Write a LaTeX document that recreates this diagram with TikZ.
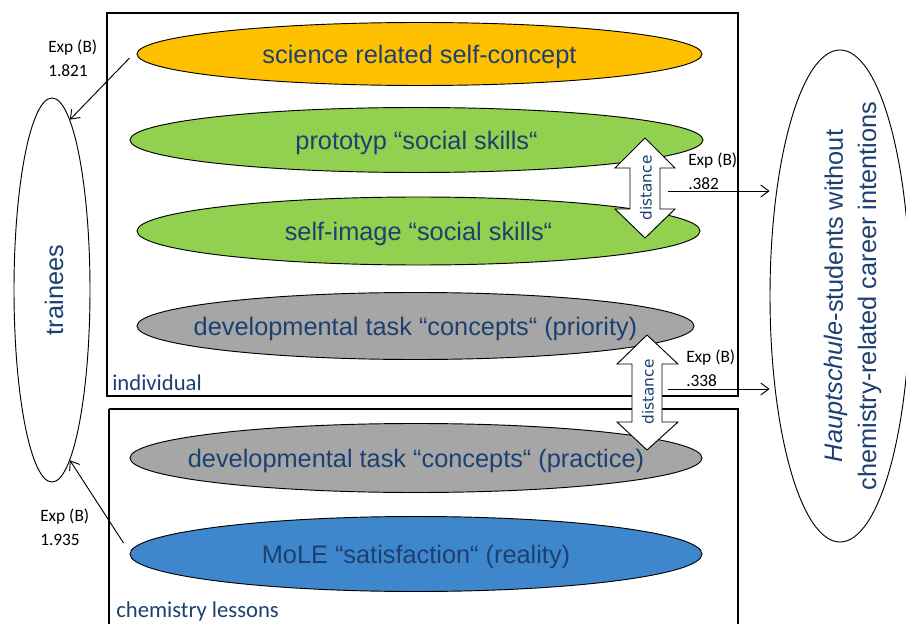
\documentclass[tikz,border=0pt]{standalone}
\usepackage{fontspec}
\setmainfont{Liberation Sans}
\newfontfamily\calibri{Carlito}
\newfontfamily\dejavu{DejaVu Sans}
\usetikzlibrary{shapes.geometric,arrows.meta}
\definecolor{txtblue}{RGB}{28,64,112}
\definecolor{fillorange}{RGB}{255,192,0}
\definecolor{fillgreen}{RGB}{146,208,80}
\definecolor{fillgray}{RGB}{166,166,166}
\definecolor{fillblue}{RGB}{62,135,204}
\tikzset{
  oval/.style n args={3}{ellipse, draw=black, line width=0.7pt, inner sep=0pt,
    minimum width=#1*0.75pt, minimum height=#2*0.75pt,
    label={[text=txtblue, font=\fontsize{19}{23}\selectfont, inner sep=0pt, yshift=-2.5pt]center:#3}},
  groupbox/.style={draw=black, line width=1pt},
  grouplabel/.style={anchor=west, inner sep=0pt, text=txtblue,
    font=\calibri\fontsize{17}{20}\selectfont},
  distarrow/.style={draw=black, line width=0.7pt, fill=white},
  distlabel/.style={rotate=90, inner sep=0pt, text=txtblue,
    font=\dejavu\fontsize{11.5}{13}\selectfont},
  link/.style={draw=black, line width=0.7pt, -{Straight Barb[length=6pt,width=9pt]}},
  expval/.style={align=left, inner sep=0pt, anchor=north west,
    font=\calibri\fontsize{13}{17.5}\selectfont},
}
\begin{document}
\begin{tikzpicture}[x=0.75pt, y=-0.75pt]
\useasboundingbox (0,0) rectangle (906,624);

% group boxes
\draw[groupbox] (107,13) rectangle (738,396);
\draw[groupbox] (109,409) -- (109,640) (109,409) -- (738,409) -- (738,640);
\node[grouplabel] (lblind) at (112,383) {individual};
\node[grouplabel] (lblchem) at (116,611) {chemistry lessons};

% outcome ellipses
\node[ellipse, draw=black, line width=0.7pt, minimum width=76*0.75pt,
  minimum height=384*0.75pt, inner sep=0pt] (trainees) at (52,290) {};
\node[rotate=90, text=txtblue, font=\fontsize{19}{23}\selectfont] (trlbl) at (54,290) {trainees};

\node[ellipse, draw=black, line width=0.7pt, minimum width=140*0.75pt,
  minimum height=492*0.75pt, inner sep=0pt] (hs) at (840,296) {};
\node[rotate=90, align=center, text=txtblue, font=\fontsize{19}{25}\selectfont]
  (hslbl) at (853,296) {\textit{Hauptschule}-students without\\chemistry-related career intentions};

% predictor ellipses
\node[oval={565}{63}{science related self-concept}, fill=fillorange] (sci) at (419.5,54) {};
\node[oval={573}{65}{prototyp “social skills“}, fill=fillgreen] (proto) at (416.5,140) {};
\node[oval={563}{68}{self-image “social skills“}, fill=fillgreen] (self) at (418.5,231) {};
\node[oval={557}{67}{developmental task “concepts“ (priority)}, fill=fillgray] (prio) at (415.5,326) {};
\node[oval={572}{69}{developmental task “concepts“ (practice)}, fill=fillgray] (prac) at (416,458) {};
\node[oval={572}{75}{MoLE “satisfaction“ (reality)}, fill=fillblue] (mole) at (416,554) {};

% distance double arrows
\draw[distarrow] (645,138) -- (675,168) -- (660,168) -- (660,209) -- (675,209)
  -- (645,238) -- (615,209) -- (630,209) -- (630,168) -- (615,168) -- cycle;
\node[distlabel] (dist1) at (646,188) {distance};
\draw[distarrow] (647,335) -- (678,364) -- (662,364) -- (662,422) -- (678,422)
  -- (647,450) -- (617,422) -- (632,422) -- (632,364) -- (617,364) -- cycle;
\node[distlabel] (dist2) at (648,392) {distance};

% effects
\draw[link] ([shift={(-7,4)}]sci.west) -- (trainees.84);
\node[expval] (e1) at (48,40) {Exp (B)\\1.821};
\draw[link] ([shift={(-6,-11)}]mole.west) -- (trainees.-84);
\node[expval] (e4) at (40,509) {Exp (B)\\1.935};

\coordinate (d1out) at (668,191);
\draw[link] (d1out) -- (d1out -| hs.west);
\node[expval] (e2) at (688,153) {Exp (B)\\.382};
\coordinate (d2out) at (668,389);
\draw[link] (d2out) -- (d2out -| hs.west);
\node[expval] (e3) at (686,350) {Exp (B)\\.338};
\end{tikzpicture}
\end{document}
